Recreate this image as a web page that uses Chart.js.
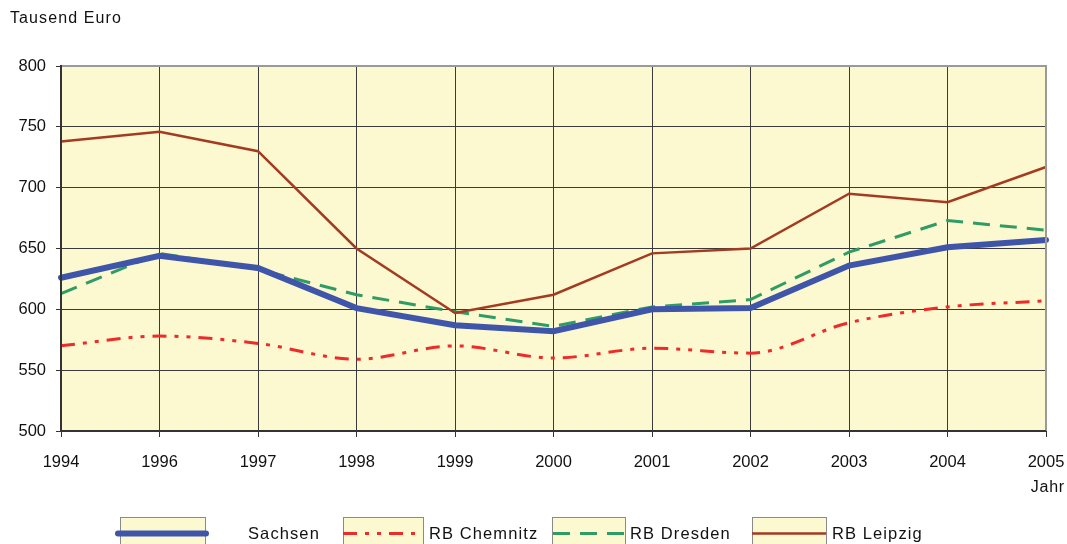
<!DOCTYPE html>
<html>
<head>
<meta charset="utf-8">
<script src="https://cdn.jsdelivr.net/npm/chart.js@4"></script>
<style>
  html, body { margin: 0; padding: 0; background: #fff; }
  #wrap { width: 1067px; height: 544px; }
</style>
</head>
<body>
<div id="wrap"><canvas id="myChart" width="1067" height="544"></canvas></div>
<script>
// Daten (Tausend Euro)
const years = ['1994', '1996', '1997', '1998', '1999', '2000', '2001', '2002', '2003', '2004', '2005'];
const sachsen = [626, 644, 634, 601, 587, 582, 600, 601, 636, 651, 657];
const chemnitz = [570, 578, 572, 559, 570, 560, 568, 564, 589, 602, 607];
const dresden = [613, 646, 633, 612, 598, 586, 602, 608, 647, 673, 665];
const leipzig = [738, 746, 730, 650, 597, 612, 646, 650, 695, 688, 717];
const yTicks = [500, 550, 600, 650, 700, 750, 800];

const bgYellow = '#fcf8cf';
const font = 'Liberation Sans, Arial, sans-serif';

// Hintergrund, Rahmen, Beschriftungen und Legende
const decor = {
    id: 'decor',
    beforeInit(chart) {
        chart.ctx.letterSpacing = '0.6px';
    },
    beforeDraw(chart) {
        const { ctx, chartArea: a } = chart;
        ctx.save();
        ctx.fillStyle = '#fff';
        ctx.fillRect(0, 0, chart.width, chart.height);
        ctx.fillStyle = bgYellow;
        ctx.fillRect(a.left, a.top, a.right - a.left, a.bottom - a.top);
        ctx.restore();
    },
    afterDraw(chart) {
        const { ctx, chartArea: a } = chart;
        ctx.save();
        // Rahmen
        ctx.lineWidth = 2;
        ctx.strokeStyle = '#9a9a9a';
        ctx.beginPath();
        ctx.moveTo(a.left, a.top);
        ctx.lineTo(a.right, a.top);
        ctx.lineTo(a.right, a.bottom);
        ctx.stroke();
        ctx.strokeStyle = '#333';
        ctx.beginPath();
        ctx.moveTo(a.left, a.top - 1);
        ctx.lineTo(a.left, a.bottom);
        ctx.lineTo(a.right, a.bottom);
        ctx.stroke();

        ctx.fillStyle = '#111';
        ctx.font = '16px ' + font;
        ctx.letterSpacing = '1.1px';
        ctx.textBaseline = 'middle';
        ctx.textAlign = 'left';
        ctx.fillText('Tausend Euro', 10, 19);
        ctx.letterSpacing = '0.8px';
        ctx.textAlign = 'right';
        ctx.fillText('Jahr', 1065, 488);

        // Legende
        const items = [
            { box: [120, 205], line: [118, 206], text: 248 },
            { box: [343, 423], line: [343, 416], text: 429 },
            { box: [552, 625], line: [553, 625], text: 630 },
            { box: [752, 826], line: [752, 826], text: 832 }
        ];
        items.forEach((it, di) => {
            const ds = chart.data.datasets[di];
            ctx.fillStyle = bgYellow;
            ctx.fillRect(it.box[0], 517, it.box[1] - it.box[0], 40);
            ctx.lineWidth = 1;
            ctx.strokeStyle = '#8a8a8a';
            ctx.setLineDash([]);
            ctx.strokeRect(it.box[0] + 0.5, 517.5, it.box[1] - it.box[0], 40);
            ctx.lineWidth = ds.borderWidth;
            ctx.strokeStyle = ds.borderColor;
            ctx.lineCap = ds.borderCapStyle || 'butt';
            ctx.setLineDash(ds.borderDash || []);
            ctx.beginPath();
            ctx.moveTo(it.line[0], 533.5);
            ctx.lineTo(it.line[1], 533.5);
            ctx.stroke();
            ctx.setLineDash([]);
            ctx.fillStyle = '#111';
            ctx.textAlign = 'left';
            ctx.letterSpacing = '1.1px';
            ctx.font = '16.5px ' + font;
            ctx.fillText(ds.label, it.text, 534);
        });
        ctx.restore();
    }
};

const ctx = document.getElementById('myChart').getContext('2d');
const myChart = new Chart(ctx, {
    type: 'line',
    data: {
        labels: years,
        datasets: [{
            label: 'Sachsen',
            data: sachsen,
            borderColor: '#3f55a9',
            borderWidth: 6,
            borderCapStyle: 'round',
            tension: 0,
            order: 1
        }, {
            label: 'RB Chemnitz',
            data: chemnitz,
            borderColor: '#ee2b2b',
            borderWidth: 3,
            borderDash: [14, 8, 4, 8, 4, 8],
            cubicInterpolationMode: 'monotone',
            tension: 0.4,
            order: 3
        }, {
            label: 'RB Dresden',
            data: dresden,
            borderColor: '#2f9c66',
            borderWidth: 3,
            borderDash: [17, 10],
            tension: 0,
            order: 2
        }, {
            label: 'RB Leipzig',
            data: leipzig,
            borderColor: '#a23b22',
            borderWidth: 2.5,
            tension: 0,
            order: 0
        }]
    },
    options: {
        responsive: false,
        animation: false,
        devicePixelRatio: 1,
        layout: { padding: { top: 66, right: 21, left: 0, bottom: 0 } },
        elements: { point: { radius: 0, hoverRadius: 0 } },
        plugins: {
            legend: { display: false },
            tooltip: { enabled: false }
        },
        scales: {
            x: {
                offset: false,
                grid: { color: '#3a3a3a', lineWidth: 1, tickLength: 6, tickColor: '#333' },
                border: { display: false },
                ticks: { color: '#111', font: { family: font, size: 16.5 }, padding: 16, maxRotation: 0, autoSkip: false },
                afterFit(scale) {
                    scale.height = 113;
                    scale.paddingLeft = 0;
                    scale.paddingRight = 0;
                }
            },
            y: {
                min: 500,
                max: 800,
                afterBuildTicks(scale) { scale.ticks = yTicks.map(v => ({ value: v })); },
                grid: { color: '#3a3a3a', lineWidth: 1, tickLength: 5, tickColor: '#333' },
                border: { display: false },
                ticks: { color: '#111', font: { family: font, size: 16.5 }, padding: 10 },
                afterFit(scale) {
                    scale.width = 61;
                    scale.paddingTop = 0;
                    scale.paddingBottom = 0;
                }
            }
        }
    },
    plugins: [decor]
});
</script>
</body>
</html>
